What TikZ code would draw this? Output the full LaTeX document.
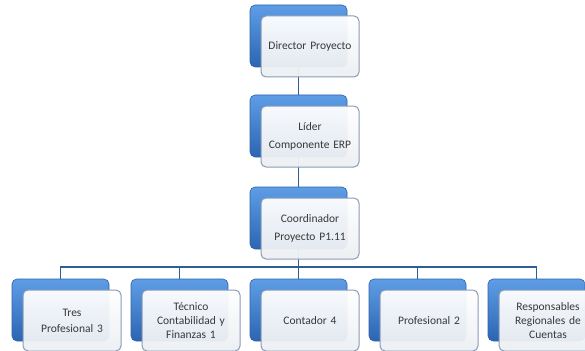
\documentclass[tikz,border=0pt]{standalone}
\usepackage{fontspec}
\setmainfont{Carlito}
\usetikzlibrary{positioning,calc}
\definecolor{boxtop}{HTML}{5E9EE6}
\definecolor{boxbot}{HTML}{2C64B2}
\definecolor{boxedge}{HTML}{2F62A8}
\definecolor{frontedge}{HTML}{8A9BB6}
\definecolor{frontbot}{HTML}{EBEEF2}
\definecolor{linkblue}{HTML}{2F5D95}
\definecolor{textgray}{HTML}{383838}

\begin{document}
\begin{tikzpicture}[x=1pt, y=1pt, font=\fontsize{11.5}{14}\selectfont,
  back/.style={rectangle, rounded corners=5pt, draw=boxedge, line width=0.6pt, top color=boxtop, bottom color=boxbot, minimum width=97pt, minimum height=62pt, inner sep=0pt, outer sep=0pt},
  front/.style={rectangle, rounded corners=5pt, draw=frontedge, line width=1pt, top color=white, bottom color=frontbot, fill opacity=0.95, text opacity=1, text=textgray, minimum width=98pt, minimum height=61pt, text width=90pt, align=center, inner sep=0pt, outer sep=0pt},
  link/.style={draw=linkblue, line width=1.6pt}]

\useasboundingbox (0,0) rectangle (585,-350);

% BACK BOXES

\node [back] (director-back) at (298.5,-36) {};
\node [back, below=28pt of director-back] (lider-back) {};
\node [back, below=30pt of lider-back] (coordinador-back) {};

\node [back, below=30pt of coordinador-back] (contador-back) {};
\node [back, left=22pt of contador-back] (tecnico-back) {};
\node [back, left=22pt of tecnico-back] (tres-back) {};
\node [back, right=22pt of contador-back] (profesional-back) {};
\node [back, right=22pt of profesional-back] (responsables-back) {};

% CONNECTORS

\coordinate [below=18pt of coordinador-back.south] (bus);

\draw [link] (director-back.south) -- (lider-back.north);
\draw [link] (lider-back.south) -- (coordinador-back.north);
\draw [link] (coordinador-back.south) -- (bus);
\foreach \n in {tres, tecnico, contador, profesional, responsables}
  \draw [link] (bus) -| (\n-back.north);

% FRONT BOXES

\node [front, below right=11pt and 11pt of director-back.north west] (director) {Director Proyecto};
\node [front, below right=11pt and 11pt of lider-back.north west] (lider) {Líder\\[4pt]Componente ERP};
\node [front, below right=11pt and 11pt of coordinador-back.north west] (coordinador) {Coordinador\\[4pt]Proyecto P1.11};

\node [front, below right=11pt and 11pt of tres-back.north west] (tres) {Tres\\[2pt]Profesional 3};
\node [front, below right=11pt and 11pt of tecnico-back.north west] (tecnico) {Técnico\\Contabilidad y\\Finanzas 1};
\node [front, below right=11pt and 11pt of contador-back.north west] (contador) {Contador 4};
\node [front, below right=11pt and 11pt of profesional-back.north west] (profesional) {Profesional 2};
\node [front, below right=11pt and 11pt of responsables-back.north west] (responsables) {Responsables\\Regionales de\\Cuentas};

\end{tikzpicture}
\end{document}
